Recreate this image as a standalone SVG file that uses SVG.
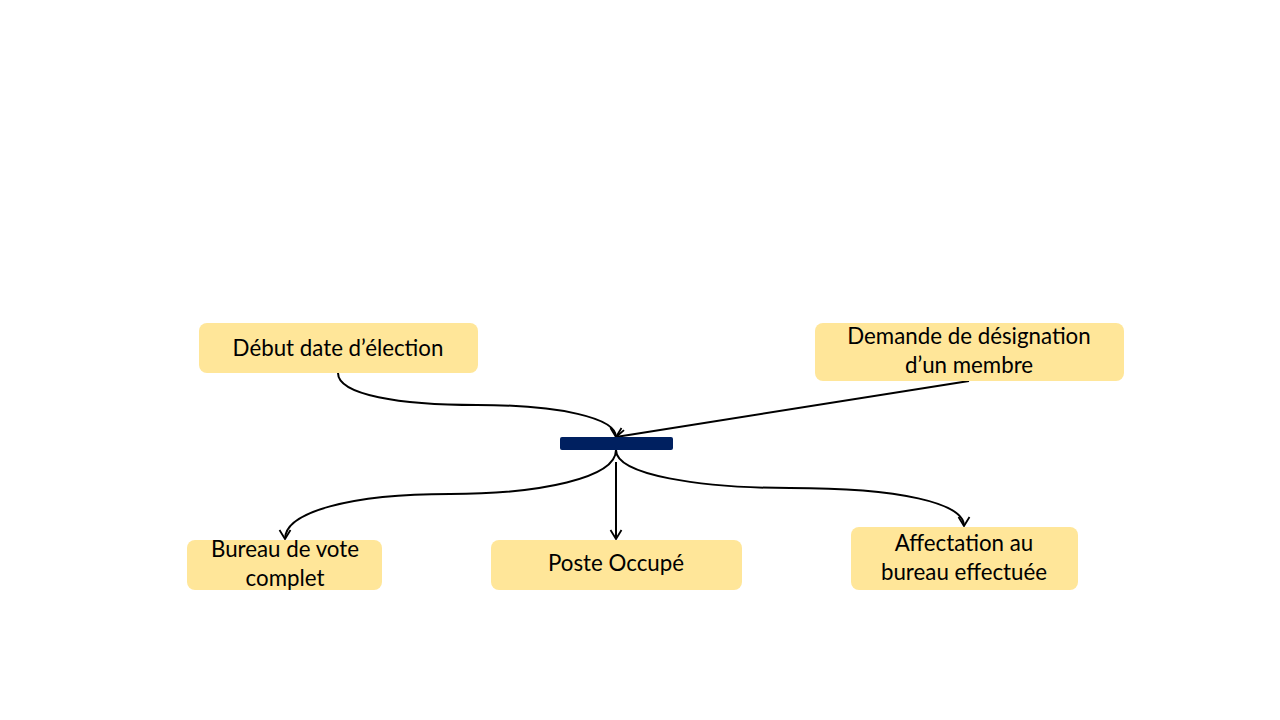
<svg xmlns="http://www.w3.org/2000/svg" width="1280" height="720" viewBox="0 0 1280 720">
<defs>
<style>
.box{fill:#FFE699;}
.t{font-family:Lato,"Liberation Sans",sans-serif;font-size:22.3px;fill:#000;text-anchor:middle;}
.c{fill:none;stroke:#000;stroke-width:2;}
</style>
<marker id="arr" markerWidth="14" markerHeight="14" refX="11" refY="7" orient="auto" markerUnits="userSpaceOnUse">
<path d="M2,1.5 L11,7 L2,12.5" fill="none" stroke="#000" stroke-width="1.8"/>
</marker>
</defs>
<rect width="1280" height="720" fill="#fff"/>
<g id="connectors">
<path class="c" d="M338,373 C338,395 400,405 477,405 C560,405 616,418 616,437" marker-end="url(#arr)"/>
<path class="c" d="M969,381 L616,437" marker-end="url(#arr)"/>
<path class="c" d="M616,450 C616,478 540,494 450,494 C350,494 285,512 285,539" marker-end="url(#arr)"/>
<path class="c" d="M616,462 L616,539" marker-end="url(#arr)"/>
<path class="c" d="M616,450 C616,475 700,488 790,488 C900,488 964,503 964,526" marker-end="url(#arr)"/>
</g>
<g id="debut">
<rect class="box" x="199" y="323" width="279" height="50" rx="8"/>
<text class="t" x="338" y="356">Début date d’élection</text>
</g>
<g id="demande">
<rect class="box" x="815" y="323" width="309" height="58" rx="8"/>
<text class="t" x="969" y="344">Demande de désignation</text>
<text class="t" x="969" y="373">d’un membre</text>
</g>
<g id="sync">
<rect x="560" y="437" width="113" height="13" rx="2" fill="#002060"/>
</g>
<g id="bureau">
<rect class="box" x="187" y="540" width="195" height="50" rx="8"/>
<text class="t" x="285" y="557">Bureau de vote</text>
<text class="t" x="285" y="586">complet</text>
</g>
<g id="poste">
<rect class="box" x="491" y="540" width="251" height="50" rx="8"/>
<text class="t" x="616" y="571">Poste Occupé</text>
</g>
<g id="affectation">
<rect class="box" x="851" y="527" width="227" height="63" rx="8"/>
<text class="t" x="964" y="551">Affectation au</text>
<text class="t" x="964" y="580">bureau effectuée</text>
</g>
</svg>
